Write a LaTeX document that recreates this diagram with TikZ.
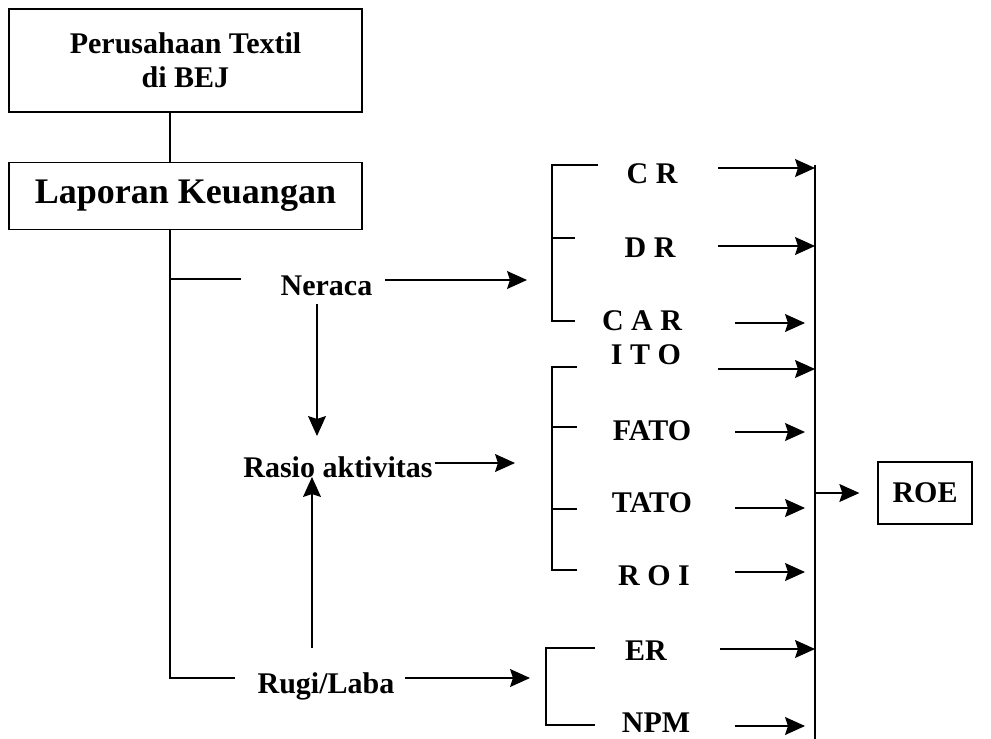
\documentclass[tikz,border=0pt]{standalone}
\usepackage{fontspec}
\setmainfont{Liberation Serif}
\usetikzlibrary{arrows.meta}
\begin{document}
\begin{tikzpicture}[x=1pt,y=-1pt,line width=1.1pt,
  lbl/.style={font=\fontsize{30}{34}\selectfont\bfseries,inner sep=0pt,anchor=base},
  box/.style={draw,line width=1.3pt,inner sep=0pt,align=center},
  arr/.style={-{Stealth[length=20pt,width=18pt,inset=3pt]}}]
\useasboundingbox (0,0) rectangle (991,739);
\fill[white] (0,0) rectangle (991,739);

% boxes
\node[box,minimum width=353pt,minimum height=103pt,font=\fontsize{30}{34}\selectfont\bfseries] (p1) at (185.5,60.5) {Perusahaan Textil\\di BEJ};
\node[box,minimum width=353pt,minimum height=67pt,font=\fontsize{36}{40}\selectfont\bfseries] (p2) at (185.5,196) {Laporan Keuangan};
\node[box,minimum width=94pt,minimum height=62pt,font=\fontsize{30}{34}\selectfont\bfseries] (roe) at (925,493) {ROE};

% labels
\node[lbl] (ner) at (326.5,295) {Neraca};
\node[lbl] (ras) at (338,477) {Rasio aktivitas};
\node[lbl] (rug) at (326,693) {Rugi/Laba};
\node[lbl] (cr) at (652,183) {C R};
\node[lbl] (dr) at (650,257) {D R};
\node[lbl] (car) at (642,330) {C A R};
\node[lbl] (ito) at (646,364) {I T O};
\node[lbl] (fato) at (652,440) {FATO};
\node[lbl] (tato) at (652,512) {TATO};
\node[lbl] (roi) at (654,585) {R O I};
\node[lbl] (er) at (646,660) {ER};
\node[lbl] (npm) at (656,732) {NPM};

% coordinates
\coordinate (trunk) at (170,0);
\coordinate (nerL) at (241,279);
\coordinate (rugL) at (235,678);
\coordinate (bus) at (815,0);
\coordinate (busTop) at (815,165);
\coordinate (busBot) at (815,739);
% group brackets
\coordinate (g1a) at (552,165); \coordinate (g1b) at (552,238); \coordinate (g1c) at (552,321);
\coordinate (g2a) at (552,367); \coordinate (g2b) at (552,427); \coordinate (g2c) at (552,509); \coordinate (g2d) at (552,570);
\coordinate (g3a) at (546,648); \coordinate (g3b) at (546,725);
% arrow starts / ends
\coordinate (sner) at (385,280); \coordinate (ener) at (527,280);
\coordinate (sras) at (435,463); \coordinate (eras) at (515,463);
\coordinate (srug) at (405,678); \coordinate (erug) at (530,678);
\coordinate (snd) at (317,304); \coordinate (end) at (317,436);
\coordinate (sup) at (312,648); \coordinate (eup) at (312,477);
\coordinate (scr) at (718,168);
\coordinate (sdr) at (718,246);
\coordinate (scar) at (735,323);
\coordinate (sito) at (718,369);
\coordinate (sfato) at (735,432);
\coordinate (stato) at (735,508);
\coordinate (sroi) at (735,572);
\coordinate (ser) at (720,649);
\coordinate (snpm) at (735,726);
\coordinate (sroe) at (815,493);

% trunk
\draw (p1.south -| trunk) -- (p2.north -| trunk);
\draw (p2.south -| trunk) |- (rugL);
\draw (nerL -| trunk) -- (nerL);

% vertical arrows and horizontal arrows from middle labels
\draw[arr] (snd) -- (end);
\draw[arr] (sup) -- (eup);
\draw[arr] (sner) -- (ener);
\draw[arr] (sras) -- (eras);
\draw[arr] (srug) -- (erug);

% brackets
\draw (598,165) -- (g1a) -- (g1c) -- (575,321);
\draw (g1b) -- (575,238);
\draw (577,367) -- (g2a) -- (g2d) -- (577,570);
\draw (g2b) -- (577,427);
\draw (g2c) -- (577,509);
\draw (595,648) -- (g3a) -- (g3b) -- (595,725);

% bus
\draw (busTop) -- (busBot);
\draw[arr] (scr) -- (scr -| bus);
\draw[arr] (sdr) -- (sdr -| bus);
\draw[arr] (scar) -- ([xshift=-10pt]scar -| bus);
\draw[arr] (sito) -- (sito -| bus);
\draw[arr] (sfato) -- ([xshift=-10pt]sfato -| bus);
\draw[arr] (stato) -- ([xshift=-10pt]stato -| bus);
\draw[arr] (sroi) -- ([xshift=-10pt]sroi -| bus);
\draw[arr] (ser) -- (ser -| bus);
\draw[arr] (snpm) -- ([xshift=-10pt]snpm -| bus);
\draw[arr] (sroe) -- ([xshift=-18pt]roe.west);
\end{tikzpicture}
\end{document}
